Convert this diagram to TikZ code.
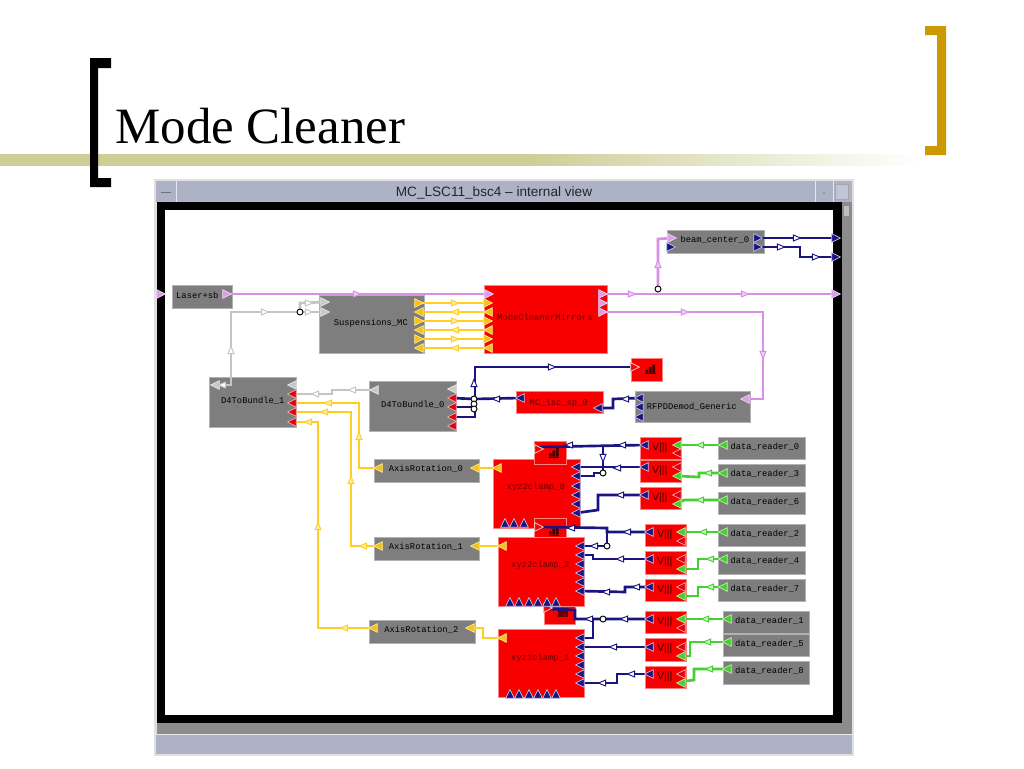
\documentclass[tikz,border=0pt]{standalone}
\usepackage{fontspec}
\setmainfont{Liberation Serif}
\newfontfamily\uifont{Liberation Sans}
\newfontfamily\blockfont{Liberation Mono}
\definecolor{wpink}{HTML}{D98EE8}
\definecolor{wyellow}{HTML}{FFCF20}
\definecolor{wgray}{HTML}{C4C4C4}
\definecolor{wnavy}{HTML}{1A1480}
\definecolor{wgreen}{HTML}{44D030}
\definecolor{chrome}{HTML}{AEB2C6}
\definecolor{barc}{HTML}{CDCD96}
\definecolor{gold}{HTML}{CC9900}
\definecolor{blkgray}{HTML}{7E7E7E}
\definecolor{blkred}{HTML}{F80000}
\definecolor{dred}{HTML}{6A0000}
\definecolor{HTML-pp}{HTML}{D8A0E8}
\definecolor{HTML-py}{HTML}{F3C31C}
\definecolor{HTML-pye}{HTML}{FFE98A}
\definecolor{HTML-pr}{HTML}{E00010}
\definecolor{HTML-pre}{HTML}{F2B4B4}
\definecolor{HTML-pne}{HTML}{C8C8F0}
\definecolor{HTML-pge}{HTML}{C0F0B0}
\definecolor{HTML-pg}{HTML}{C8C8C8}
\definecolor{HTML-pge2}{HTML}{E8E8E8}
\tikzset{
  graybox/.style={fill=blkgray,draw=black!30,line width=.5pt,inner sep=0pt,font=\blockfont\fontsize{6.6pt}{7pt}\selectfont,text=black},
  redbox/.style={fill=blkred,draw=red!50!white,line width=.4pt,inner sep=0pt,font=\blockfont\fontsize{6.6pt}{7pt}\selectfont,text=dred},
  vbox/.style={redbox,font=\uifont\fontsize{8pt}{8pt}\selectfont,text=black!75!red},
  wire/.style={line width=2pt,line join=miter},
  pinkw/.style={wire,draw=wpink},
  yellw/.style={wire,draw=wyellow},
  grayw/.style={wire,draw=wgray},
  navyw/.style={wire,draw=wnavy},
  greenw/.style={wire,draw=wgreen},
  mpink/.style={fill=wpink!45!white,draw=wpink,line width=.7pt},
  myell/.style={fill=wyellow!40!white,draw=wyellow,line width=.7pt},
  mgray/.style={fill=white,draw=wgray,line width=.7pt},
  mnavy/.style={fill=white,draw=wnavy,line width=.7pt},
  mgreen/.style={fill=wgreen!25!white,draw=wgreen,line width=.7pt},
  ppink/.style={fill=HTML-pp,draw=white!60!wpink,line width=.5pt},
  pyell/.style={fill=HTML-py,draw=HTML-pye,line width=.5pt},
  pred/.style={fill=HTML-pr,draw=HTML-pre,line width=.5pt},
  pnavy/.style={fill=wnavy,draw=HTML-pne,line width=.5pt},
  pgreen/.style={fill=wgreen,draw=HTML-pge,line width=.5pt},
  pgray/.style={fill=HTML-pg,draw=HTML-pge2,line width=.5pt},
  pscope/.style={fill=blkred,draw=HTML-pre,line width=.7pt},
  junction/.style={circle,draw=black,fill=white,line width=.7pt,inner sep=0pt,minimum size=4.5pt},
}
% name, x1, y1, x2, y2, style, dx, dy (text centre offset, px), text
\newcommand\blk[9]{%
  \pgfmathsetmacro\blkw{(#4-#2)*0.75}%
  \pgfmathsetmacro\blkh{(#5-#3)*0.75}%
  \pgfmathsetmacro\blkx{2*(#7)*0.75}%
  \pgfmathsetmacro\blky{(#8)*0.75-1.6}%
  \node[#6,minimum width=\blkw pt,minimum height=\blkh pt,anchor=north west] (#1) at (#2,#3)
    {\makebox[0pt]{\smash{\raisebox{\blky pt}{\hspace{\blkx pt}#9}}}};}
% name, x, y, angle, style
\newcommand\port[5]{%
  \coordinate (#1) at (#2,#3);
  \path[#5,shift={(#2,#3)},rotate=#4] (-4.3,-4.3)--(4.3,0)--(-4.3,4.3)--cycle;}
% x, y, angle, style
\newcommand\midt[4]{\path[#4,shift={(#1,#2)},rotate=#3] (-3.7,-3)--(3.7,0)--(-3.7,3)--cycle;}
% x, y, colour: little bar-chart icon, 10 px wide
\newcommand\scopeicon[3]{%
  \fill[#3] (#1,#2+5) rectangle +(2.6,3.5) (#1+3.4,#2+2.5) rectangle +(2.6,6) (#1+6.8,#2) rectangle +(2.8,8.5);
  \draw[#3,line width=.5pt] (#1-.5,#2+9) -- +(10.5,0);}
\begin{document}
\begin{tikzpicture}[x=0.75pt,y=-0.75pt]
\path[use as bounding box,fill=white] (0,0) rectangle (1024,768);
% slide decoration
\fill[barc] (0,154) rectangle (520,166);
\foreach \bs in {0,...,79}{
  \pgfmathsetmacro\bp{100-\bs*1.25}
  \fill[barc!\bp!white] (520+\bs*5,154) rectangle (525.4+\bs*5,166);
}
\fill[black] (90,58) -- (111,58) -- (111,68) -- (98,68) -- (98,178) -- (111,178) -- (111,187) -- (90,187) -- cycle;
\fill[gold] (925,26) -- (946,26) -- (946,155) -- (925,155) -- (925,146) -- (937,146) -- (937,35) -- (925,35) -- cycle;
\node[anchor=base west,inner sep=0pt,font=\fontsize{38.2pt}{40pt}\selectfont] (title) at (115,143) {Mode Cleaner};
% window chrome
\fill[black!12] (154,179) rectangle (854,756);
\fill[chrome] (156,181) rectangle (852,202);
\draw[white!70!chrome,line width=.6pt] (176,181) -- (176,202) (815,181) -- (815,202) (833,181) -- (833,202);
\draw[black!55,line width=.9pt] (161,192.5) -- (171,192.5);
\fill[black!40] (823,192) rectangle +(2,2);
\draw[black!35,fill=white!25!chrome,line width=.5pt] (835.5,184) rectangle (848,199);
\node[font=\uifont\fontsize{10.2pt}{11pt}\selectfont,text=black!85] (wintitle) at (494,193) {MC\_LSC11\_bsc4 – internal view};
\fill[black] (157,202) rectangle (842,723);
\fill[white] (165,210) rectangle (833,715);
\fill[black!45] (842,202) rectangle (852,733);
\fill[black!45] (157,723) rectangle (852,734);
\fill[chrome] (156,735) rectangle (852,754);
\draw[white!70!chrome,line width=.5pt] (156,734.5) -- (852,734.5);
\fill[black!25] (844,206) -- (849,206) -- (849,216) -- (844,216) -- cycle;
% blocks
\blk{laser}{172}{285}{232}{308}{graybox}{-5}{0}{Laser+sb}
\blk{susp}{319}{295}{424}{353}{graybox}{-1}{1}{Suspensions\_MC}
\blk{dfour}{209}{377}{296}{427}{graybox}{0}{1}{D4ToBundle\_1}
\blk{dzero}{369}{381}{456}{431}{graybox}{0}{1}{D4ToBundle\_0}
\blk{mcm}{484}{285}{607}{353}{redbox}{-1}{1}{ModeCleanerMirrors}
\blk{beam}{667}{230}{764}{253}{graybox}{-1}{1}{beam\_center\_0}
\blk{scopetop}{631}{358}{662}{381}{redbox}{0}{0}{}
\blk{lsc}{516}{391}{603}{413}{redbox}{-1}{-1}{MC\_lsc\_sp\_0}
\blk{rfpd}{635}{391}{750}{422}{graybox}{-1}{-1}{RFPDDemod\_Generic}
\blk{axz}{374}{459}{479}{482}{graybox}{-1}{1}{AxisRotation\_0}
\blk{axo}{374}{537}{479}{560}{graybox}{-1}{1}{AxisRotation\_1}
\blk{axt}{369}{620}{475}{643}{graybox}{-1}{1}{AxisRotation\_2}
\blk{xyzz}{493}{459}{580}{528}{redbox}{-1}{6}{xyz2clamp\_0}
\blk{scopez}{534}{441}{566}{464}{redbox}{0}{0}{}
\blk{scopet}{534}{518}{566}{537}{redbox}{0}{0}{}
\blk{xyzt}{498}{537}{584}{606}{redbox}{-1}{6}{xyz2clamp\_2}
\blk{scopeo}{544}{606}{575}{624}{redbox}{0}{0}{}
\blk{xyzo}{498}{629}{584}{697}{redbox}{-1}{5}{xyz1clamp\_1}
\blk{va}{640}{437}{681}{459}{vbox}{-1}{0}{V|||}
\blk{vb}{640}{460}{681}{482}{vbox}{-1}{0}{V|||}
\blk{vc}{640}{487}{681}{509}{vbox}{-1}{0}{V|||}
\blk{vd}{645}{524}{686}{546}{vbox}{-1}{0}{V|||}
\blk{ve}{645}{551}{686}{574}{vbox}{-1}{0}{V|||}
\blk{vf}{645}{579}{686}{601}{vbox}{-1}{0}{V|||}
\blk{vg}{645}{611}{686}{633}{vbox}{-1}{0}{V|||}
\blk{vh}{645}{638}{686}{661}{vbox}{-1}{0}{V|||}
\blk{vi}{645}{666}{686}{688}{vbox}{-1}{0}{V|||}
\blk{dra}{718}{437}{805}{459}{graybox}{3}{1}{data\_reader\_0}
\blk{drb}{718}{464}{805}{486}{graybox}{3}{1}{data\_reader\_3}
\blk{drc}{718}{492}{805}{514}{graybox}{3}{1}{data\_reader\_6}
\blk{drd}{718}{524}{805}{546}{graybox}{3}{1}{data\_reader\_2}
\blk{dre}{718}{551}{805}{574}{graybox}{3}{1}{data\_reader\_4}
\blk{drf}{718}{579}{805}{601}{graybox}{3}{1}{data\_reader\_7}
\blk{drg}{723}{611}{809}{633}{graybox}{3}{1}{data\_reader\_1}
\blk{drh}{723}{634}{809}{656}{graybox}{3}{1}{data\_reader\_5}
\blk{dri}{723}{661}{809}{684}{graybox}{3}{1}{data\_reader\_8}
% scope icons
\scopeicon{645.5}{364.5}{black!40!dred}
\scopeicon{549}{448}{black!40!dred}
\scopeicon{549}{526}{black!40!dred}
\fill[black!30!red!60!black] (558,608) rectangle (568,617);
% ports: coordinates first, then wires, then triangles on top
\port{fin}{161}{294}{0}{ppink}
\coordinate (lasero) at (227,294);
\coordinate (fouta) at (836,294);
\coordinate (foutb) at (836,238);
\coordinate (foutc) at (836,257);
\coordinate (mcmi) at (489,294);
\coordinate (mcmoa) at (603,294);
\coordinate (mcmoc) at (603,312);
\coordinate (beamia) at (672,238);
\coordinate (beamoa) at (758,238);
\coordinate (beamob) at (758,247);
% magenta wires
\coordinate (ja) at (658,289);
\draw[pinkw] (lasero) -- (mcmi);
\draw[pinkw] (mcmoa) -- (fouta);
\draw[pinkw] (ja) -- (658,239) -- (beamia);
\coordinate (rfpdp) at (745,399);
\draw[pinkw] (mcmoc) -- (763,312) -- (763,399) -- (rfpdp);
\node[junction] (jan) at (ja) {};
\midt{357}{294}{0}{mpink}\midt{632}{294}{0}{mpink}\midt{745}{294}{0}{mpink}
\midt{658}{264}{90}{mpink}\midt{685}{312}{0}{mpink}\midt{763}{355}{270}{mpink}
% navy beam wires
\draw[navyw] (beamoa) -- (foutb);
\draw[navyw] (beamob) -- (800,247) -- (800,257) -- (foutc);
\midt{797}{238}{0}{mnavy}\midt{781}{247}{0}{mnavy}\midt{816}{257}{0}{mnavy}
% gray wires
\coordinate (dfg) at (215,385);
\coordinate (susa) at (325,302);
\coordinate (susb) at (325,312);
\coordinate (dzg) at (374,390);
\coordinate (dfb) at (292,394);
\coordinate (jb) at (300,312);
\draw[grayw] (dfg) -- (231,385) -- (231,312) -- (jb);
\draw[grayw] (jb) -- (300,303) -- (susa);
\draw[grayw] (jb) -- (susb);
\draw[grayw] (dzg) -- (332,390) -- (332,394) -- (dfb);
\node[junction] (jbn) at (jb) {};
\midt{231}{350}{90}{mgray}\midt{265}{312}{0}{mgray}\midt{309}{303}{0}{mgray}\midt{309}{312}{0}{mgray}
\midt{352}{390}{180}{mgray}\midt{315}{394}{180}{mgray}
% yellow wires
\foreach \yy/\ang/\nm in {303/0/a,312/180/b,321/0/c,330/180/d,339/0/e,348/180/f}{
  \coordinate (susy\nm) at (419,\yy);
  \coordinate (mcmy\nm) at (488,\yy);
  \draw[yellw] (susy\nm) -- (mcmy\nm);
  \midt{455}{\yy}{\ang}{myell}
  \port{susy\nm}{419}{\yy}{\ang}{pyell}
  \port{mcmy\nm}{488}{\yy}{\ang}{pyell}
}
\coordinate (dfc) at (292,403);
\coordinate (dfd) at (292,412);
\coordinate (dfe) at (292,422);
\coordinate (axzl) at (378,468);
\coordinate (axol) at (378,546);
\coordinate (axtl) at (373,628);
\coordinate (axzr) at (475,468);
\coordinate (axor) at (475,546);
\coordinate (axtr) at (470,628);
\coordinate (xyzzy) at (497,468);
\coordinate (xyzty) at (502,546);
\coordinate (xyzoy) at (502,638);
\draw[yellw] (dfc) -- (359,403) -- (359,468) -- (axzl);
\draw[yellw] (dfd) -- (351,412) -- (351,546) -- (axol);
\draw[yellw] (dfe) -- (318,422) -- (318,628) -- (axtl);
\draw[yellw] (axzr) -- (xyzzy);
\draw[yellw] (axor) -- (xyzty);
\draw[yellw] (axtr) -- (483,628) -- (483,638) -- (xyzoy);
\midt{328}{403}{180}{myell}\midt{359}{436}{90}{myell}
\midt{324}{412}{180}{myell}\midt{351}{480}{90}{myell}\midt{363}{546}{180}{myell}
\midt{308}{422}{180}{myell}\midt{318}{526}{90}{myell}\midt{344}{628}{180}{myell}
% navy wires around lsc
\coordinate (scopetopi) at (635,367);
\coordinate (rfa) at (639,398);
\coordinate (lscl) at (520,398);
\coordinate (lscr) at (598,408);
\coordinate (dzr) at (452,398);
\coordinate (dzs) at (452,407);
\coordinate (dzt) at (452,417);
\coordinate (jc) at (474,399);
\coordinate (je) at (474,409);
\draw[navyw] (rfa) -- (613,399) -- (613,408) -- (lscr);
\draw[navyw] (lscl) -- (jc) -- (dzr);
\draw[navyw] (dzs) -- (474,407) -- (je);
\draw[navyw] (dzt) -- (475,417) -- (475,367) -- (scopetopi);
\node[junction] (jcn) at (jc) {};
\node[junction] (jdn) at (474,404) {};
\node[junction] (jen) at (je) {};
\midt{625}{399}{180}{mnavy}\midt{496}{399}{180}{mnavy}\midt{552}{367}{0}{mnavy}\midt{474}{383}{90}{mnavy}
% xyz clamp navy wires
\foreach \nm/\xx/\yy in {xzar/576/467,xzbr/576/476,xzfr/576/513,xtar/580/546,xtbr/580/555,xtfr/580/591,xoar/580/638,xobr/580/647,xofr/580/683,
  vai/644/445,vbi/644/467,vci/644/495,vdi/649/532,vei/649/559,vfi/649/587,vgi/649/619,vhi/649/647,vii/649/674,
  scza/539/447,scta/539/527,scoa/548/609,jf/603/473,jg/607/546,jh/603/619}
  {\coordinate (\nm) at (\xx,\yy);}
\draw[navyw] (vai) -- (scza);
\draw[navyw] (603,445) -- (jf) -- (594,473) -- (594,476) -- (xzbr);
\draw[navyw] (vbi) -- (xzar);
\draw[navyw] (vci) -- (598,495) -- (598,510) -- (xzfr);
\draw[navyw] (vdi) -- (607,532) -- (607,528) -- (scta);
\draw[navyw] (607,532) -- (jg) -- (xtar);
\draw[navyw] (vei) -- (593,559) -- (593,555) -- (xtbr);
\draw[navyw] (vfi) -- (625,587) -- (625,592) -- (xtfr);
\draw[navyw] (vgi) -- (jh) -- (575,619) -- (575,610) -- (scoa);
\draw[navyw] (593,619) -- (593,638) -- (xoar);
\draw[navyw] (vhi) -- (xobr);
\draw[navyw] (vii) -- (617,674) -- (617,683) -- (xofr);
\node[junction] (jfn) at (jf) {};
\node[junction] (jgn) at (jg) {};
\node[junction] (jhn) at (jh) {};
\midt{622}{445}{180}{mnavy}\midt{569}{445}{180}{mnavy}\midt{603}{458}{270}{mnavy}
\midt{617}{468}{180}{mnavy}\midt{620}{495}{180}{mnavy}
\midt{627}{532}{180}{mnavy}\midt{571}{528}{180}{mnavy}\midt{594}{546}{180}{mnavy}
\midt{620}{559}{180}{mnavy}\midt{636}{587}{180}{mnavy}\midt{606}{592}{180}{mnavy}
\midt{624}{619}{180}{mnavy}\midt{589}{619}{180}{mnavy}
\midt{613}{647}{180}{mnavy}\midt{631}{674}{180}{mnavy}\midt{602}{683}{180}{mnavy}
% green wires
\foreach \nm/\xx/\yy in {vao/677/445,vbo/677/476,vco/677/504,vdo/681/532,veo/681/569,vfo/681/596,vgo/681/619,vho/681/656,vio/681/683,
  dai/723/445,dbi/723/473,dci/723/500,ddi/723/532,dei/723/559,dfi/723/587,dgi/727/619,dhi/727/642,dii/727/669}
  {\coordinate (\nm) at (\xx,\yy);}
\draw[greenw] (dai) -- (vao);
\draw[greenw] (dbi) -- (699,473) -- (699,477) -- (vbo);
\draw[greenw] (dci) -- (684,500) -- (vco);
\draw[greenw] (ddi) -- (vdo);
\draw[greenw] (dei) -- (698,559) -- (698,569) -- (veo);
\draw[greenw] (dfi) -- (698,587) -- (698,596) -- (vfo);
\draw[greenw] (dgi) -- (vgo);
\draw[greenw] (dhi) -- (690,642) -- (690,656) -- (vho);
\draw[greenw] (dii) -- (694,669) -- (694,680) -- (686,681) -- (vio);
\midt{700}{445}{180}{mgreen}\midt{708}{473}{180}{mgreen}\midt{700}{500}{180}{mgreen}
\midt{703}{532}{180}{mgreen}\midt{710}{559}{180}{mgreen}\midt{710}{587}{180}{mgreen}
\midt{705}{619}{180}{mgreen}\midt{707}{642}{180}{mgreen}\midt{709}{669}{180}{mgreen}
% remaining ports
\port{lasero}{227}{294}{0}{ppink}
\port{fouta}{836}{294}{0}{ppink}
\port{foutb}{836}{238}{0}{pnavy}
\port{foutc}{836}{257}{0}{pnavy}
\port{mcmi}{489}{294}{0}{ppink}
\port{mcmoa}{603}{294}{0}{ppink}
\port{mcmob}{603}{303}{0}{ppink}
\port{mcmoc}{603}{312}{0}{ppink}
\port{beamia}{672}{238}{0}{ppink}
\port{beamib}{671}{247}{0}{pnavy}
\port{beamoa}{758}{238}{0}{pnavy}
\port{beamob}{758}{247}{0}{pnavy}
\port{rfpdp}{745}{399}{180}{ppink}
\port{dfg}{215}{385}{180}{pgray}
\midt{222}{385}{180}{mgray}
\port{dfgr}{292}{385}{180}{pgray}
\port{susa}{325}{302}{0}{pgray}
\port{susb}{325}{312}{0}{pgray}
\port{dzg}{374}{390}{180}{pgray}
\port{dzgr}{452}{389}{180}{pgray}
\foreach \yy/\nm in {394/b,403/c,412/d,422/e}{\port{dfr\nm}{292}{\yy}{180}{pred}}
\foreach \yy/\nm in {398/r,407/s,417/t,426/u}{\port{dzp\nm}{452}{\yy}{180}{pred}}
\port{axzl}{378}{468}{180}{pyell}
\port{axol}{378}{546}{180}{pyell}
\port{axtl}{373}{628}{180}{pyell}
\port{axzr}{475}{468}{180}{pyell}
\port{axor}{475}{546}{180}{pyell}
\port{axtr}{470}{628}{180}{pyell}
\port{xyzzy}{497}{468}{180}{pyell}
\port{xyzty}{502}{546}{180}{pyell}
\port{xyzoy}{502}{638}{180}{pyell}
\port{scopetopi}{635}{367}{0}{pscope}
\port{scza}{539}{449}{0}{pscope}
\port{scta}{539}{527}{0}{pscope}
\port{scoa}{548}{608}{0}{pscope}
\port{rfa}{639}{398}{180}{pnavy}
\port{rfb}{639}{407}{180}{pnavy}
\port{rfc}{639}{417}{180}{pnavy}
\port{lscl}{520}{398}{180}{pnavy}
\port{lscr}{598}{408}{180}{pnavy}
\foreach \yy in {467,476,486,495,504,513}{\port{xzp\yy}{576}{\yy}{180}{pnavy}}
\foreach \yy in {546,555,564,573,582,591,638,647,656,665,674,683}{\port{xtp\yy}{580}{\yy}{180}{pnavy}}
\foreach \xx in {505,514,524}{\port{xzb\xx}{\xx}{523}{90}{pnavy}}
\foreach \xx in {510,519,529,538,547,556}{\port{xtb\xx}{\xx}{602}{90}{pnavy}\port{xob\xx}{\xx}{694}{90}{pnavy}}
\foreach \nm/\xx/\yy in {vai/644/445,vbi/644/467,vci/644/495,vdi/649/532,vei/649/559,vfi/649/587,vgi/649/619,vhi/649/647,vii/649/674}
  {\port{\nm}{\xx}{\yy}{180}{pnavy}}
\foreach \nm/\xx/\yy in {vao/677/445,vbo/677/476,vco/677/504,vdo/681/532,veo/681/569,vfo/681/596,vgo/681/619,vho/681/656,vio/681/683,
  dai/723/445,dbi/723/473,dci/723/500,ddi/723/532,dei/723/559,dfi/723/587,dgi/727/619,dhi/727/642,dii/727/669}
  {\port{\nm}{\xx}{\yy}{180}{pgreen}}
\foreach \xx/\yy in {677/453,677/467,677/495,681/541,681/559,681/587,681/628,681/647,681/674}
  {\port{vr\xx\yy}{\xx}{\yy}{180}{pred}}
\end{tikzpicture}
\end{document}
